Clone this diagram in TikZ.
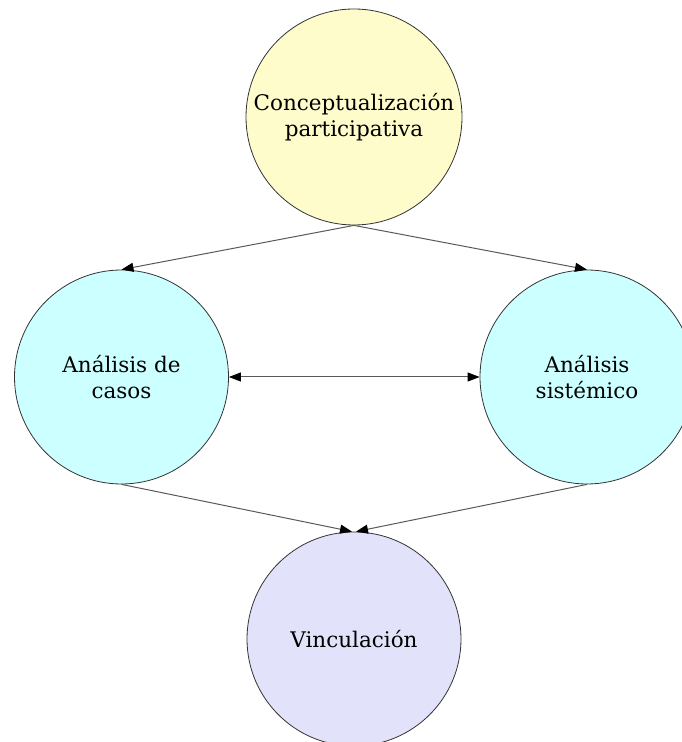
\documentclass[tikz,border=0pt]{standalone}
\usepackage{fontspec}
\setmainfont{DejaVu Serif}
\usetikzlibrary{arrows.meta,calc}
\definecolor{cp_yellow}{RGB}{255, 252, 204}
\definecolor{cp_cyan}{RGB}{204, 255, 255}
\definecolor{cp_lilac}{RGB}{226, 226, 250}
\tikzstyle{yn}=[circle,fill=cp_yellow,draw=black!80,line width=0.8pt,
  minimum size=216pt,inner sep=0pt,align=center,font=\fontsize{21.5}{26}\selectfont]
\tikzstyle{cn}=[circle,fill=cp_cyan,draw=black!80,line width=0.8pt,
  minimum size=214pt,inner sep=0pt,align=center,font=\fontsize{21.5}{26}\selectfont]
\tikzstyle{ln}=[circle,fill=cp_lilac,draw=black!80,line width=0.8pt,
  minimum size=214pt,inner sep=0pt,align=center,font=\fontsize{21.5}{26}\selectfont]
\tikzstyle{ed}=[draw=black!65,line width=1pt,
  -{Triangle[length=12pt,width=9pt,fill=black,color=black]}]
\tikzstyle{ded}=[draw=black!65,line width=1pt,
  {Triangle[length=12pt,width=9pt,fill=black,color=black]}-{Triangle[length=12pt,width=9pt,fill=black,color=black]}]

\begin{document}
\begin{tikzpicture}[x=1pt,y=1pt]
            \useasboundingbox (0,0) rectangle (682,742);
            \node [style=yn] (0) at (354, 625) {Conceptualización\\participativa};
            \node [style=cn] (1) at (121.5, 365) {Análisis de\\casos};
            \node [style=cn] (2) at (587, 365) {Análisis\\sistémico};
            \node [style=ln] (3) at (354, 103) {Vinculación};
            \draw [style=ed] (0.south) to (1.north);
            \draw [style=ed] (0.south) to (2.north);
            \draw [style=ded] (1.east) to (2.west);
            \draw [style=ed] (1.south) to ($(3.north)+(-2,0)$);
            \draw [style=ed] (2.south) to ($(3.north)+(2,0)$);
    \end{tikzpicture}
\end{document}
